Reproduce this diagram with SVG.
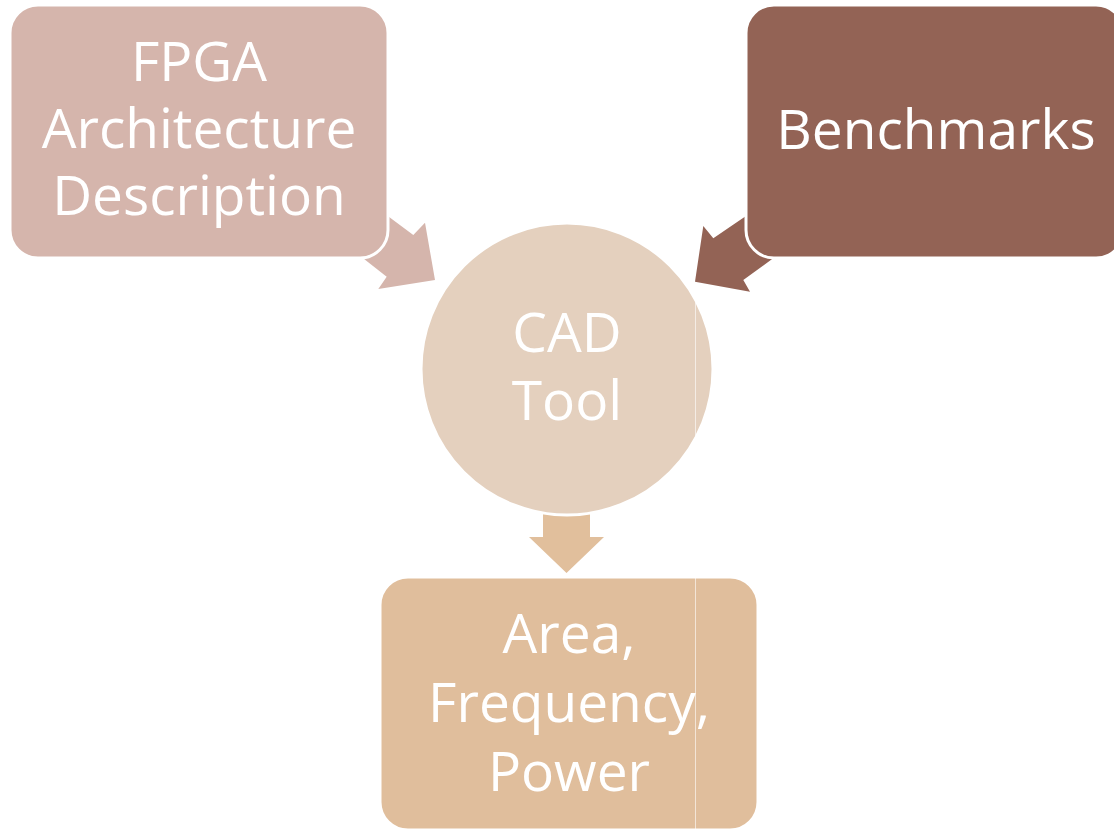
<svg xmlns="http://www.w3.org/2000/svg" width="1114" height="829" viewBox="0 0 1114 829">
  <style>
    .label { font-family: "Open Sans", "Noto Sans", "Liberation Sans", sans-serif; font-size: 55px; fill: #ffffff; text-anchor: middle; }
    .shape { stroke: #ffffff; stroke-width: 3; }
    .seam { stroke: #ffffff; stroke-width: 1; stroke-opacity: 0.6; }
  </style>
  <rect width="1114" height="829" fill="#ffffff"/>

  <!-- block arrows, drawn under the shapes they join -->
  <g id="connectors">
    <polygon id="arrow-arch" fill="#D5B5AC" points="379.4,209.7 413.3,235 425,222.7 435,280 378.3,289 386.7,276.7 354.4,251.4"/>
    <polygon id="arrow-bench" fill="#936355" points="755.5,209.5 713.3,238.3 703.3,226 695,281.7 750,291.7 743.3,280 780.5,252.9"/>
    <polygon id="arrow-result" fill="#E1BF9C" points="543,500 590,500 590,537 604,537 566.5,573 529,537 543,537"/>
  </g>

  <g id="node-arch">
    <rect class="shape" x="10" y="5" width="378" height="253" rx="28" fill="#D5B5AC"/>
    <text class="label" x="199" y="81">FPGA</text>
    <text class="label" x="199" y="148">Architecture</text>
    <text class="label" x="199" y="215">Description</text>
  </g>

  <g id="node-bench">
    <rect class="shape" x="746" y="5" width="378" height="253" rx="28" fill="#936355"/>
    <text class="label" x="936" y="149">Benchmarks</text>
  </g>

  <g id="node-cad">
    <circle class="shape" cx="567" cy="369" r="146" fill="#E4D0BE"/>
    <text class="label" x="567" y="352">CAD</text>
    <text class="label" x="567" y="420">Tool</text>
    <line class="seam" x1="695.5" y1="299" x2="695.5" y2="439"/>
  </g>

  <g id="node-result">
    <rect class="shape" x="380" y="577" width="378" height="253" rx="28" fill="#E0BE9C"/>
    <text class="label" x="569" y="653">Area,</text>
    <text class="label" x="569" y="722">Frequency,</text>
    <text class="label" x="569" y="791">Power</text>
    <line class="seam" x1="695.5" y1="577" x2="695.5" y2="829"/>
  </g>
</svg>
